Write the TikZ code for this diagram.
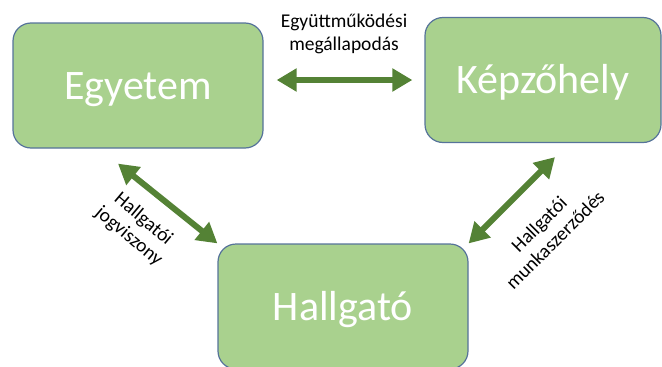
\documentclass[tikz,border=0pt]{standalone}
\usepackage{fontspec}
\setmainfont{Carlito}
\usepackage{tikz}
\usetikzlibrary{arrows.meta}
\usetikzlibrary{calc}

\definecolor{boxgreen}{HTML}{A9D18E}
\definecolor{boxline}{HTML}{56739A}
\definecolor{arrowgreen}{HTML}{548235}

\begin{document}
\begin{tikzpicture}[x = 1pt, y = -1pt,
    box/.style = {draw = boxline, line width = 1.2pt, fill = boxgreen,
        rounded corners = 18pt, text = white, text height = 27pt, text depth = 0pt,
        font = \fontsize{42}{50}\selectfont, minimum height = 125pt},
    link/.style = {arrowgreen, line width = 6pt,
        {Triangle[length = 20pt, width = 22pt]}-{Triangle[length = 20pt, width = 22pt]}},
    lbl/.style = {font = \fontsize{19.5}{22.5}\selectfont, align = center, inner sep = 0}]
    \useasboundingbox (0, 0) rectangle (662, 367);

    %% boxes
    \node[box, minimum width = 250pt] (egyetem) at (138, 85.5) {Egyetem};
    \node[box, minimum width = 236pt] (kepzohely) at (543, 80) {Képzőhely};
    \node[box, minimum width = 250pt] (hallgato) at (343, 306.5) {Hallgató};

    %% arrows
    \draw[link] ($(egyetem.east |- kepzohely.west) + (13, 0)$) -- ($(kepzohely.west) + (-12, 0)$);
    \draw[link] ($(egyetem.south) + (-20, 15)$) -- (hallgato.north west);
    \draw[link] ($(kepzohely.south) + (12, 14)$) -- (hallgato.north east);

    %% labels
    \node[lbl] (egyuttmukodes) at (344, 34) {Együttműködési\\megállapodás};
    \node[lbl, rotate = -40] (jogviszony) at (136, 228) {Hallgatói\\jogviszony};
    \node[lbl, rotate = 45] (munkaszerzodes) at (547, 232) {Hallgatói\\munkaszerződés};
\end{tikzpicture}
\end{document}
